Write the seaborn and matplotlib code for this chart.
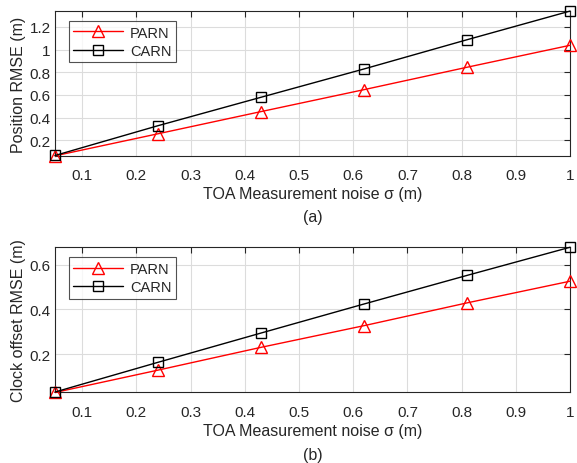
import matplotlib
matplotlib.use('Agg')
import matplotlib.pyplot as plt
import pandas as pd
import seaborn as sns

# noise levels (m)
sigma = [0.05, 0.24, 0.43, 0.62, 0.81, 1.0]

# position RMSE (m)
pos_parn = [0.065, 0.259, 0.454, 0.647, 0.844, 1.037]
pos_carn = [0.068, 0.330, 0.580, 0.829, 1.086, 1.338]

# clock offset RMSE (m)
clk_parn = [0.028, 0.128, 0.230, 0.327, 0.429, 0.526]
clk_carn = [0.030, 0.163, 0.294, 0.424, 0.552, 0.678]

x_ticks = [0.1, 0.2, 0.3, 0.4, 0.5, 0.6, 0.7, 0.8, 0.9, 1]
pos_ticks = [0.2, 0.4, 0.6, 0.8, 1.0, 1.2]
clk_ticks = [0.2, 0.4, 0.6]

sns.set_style('white')
plt.rcParams['font.family'] = ['Liberation Sans', 'DejaVu Sans']
dark = '#262626'

fig = plt.figure(figsize=(5.77, 4.64), dpi=100)
ax1 = fig.add_axes([0.0953, 0.662, 0.8927, 0.312])
ax2 = fig.add_axes([0.0953, 0.152, 0.8927, 0.313])


def draw(ax, parn, carn, yticks, ylabel, tag, tag_y):
    df = pd.DataFrame({'sigma': sigma, 'PARN': parn, 'CARN': carn})
    sns.lineplot(data=df, x='sigma', y='PARN', ax=ax, color='red', lw=1,
                 marker='^', markersize=9, markerfacecolor='none',
                 markeredgecolor='red', markeredgewidth=1, label='PARN',
                 clip_on=False, zorder=3)
    sns.lineplot(data=df, x='sigma', y='CARN', ax=ax, color='black', lw=1,
                 marker='s', markersize=7, markerfacecolor='none',
                 markeredgecolor='black', markeredgewidth=1, label='CARN',
                 clip_on=False, zorder=3)
    ax.set_xlim(sigma[0], sigma[-1])
    ax.set_ylim(min(parn + carn), max(parn + carn))
    ax.set_xticks(x_ticks)
    ax.set_xticklabels([f'{t:g}' for t in x_ticks])
    ax.set_yticks(yticks)
    ax.set_yticklabels([f'{t:g}' for t in yticks])
    ax.grid(True, color='#dcdcdc', lw=0.8)
    ax.set_axisbelow(True)
    ax.tick_params(direction='in', length=4, width=0.8, colors=dark,
                   labelsize=11, top=True, right=True)
    ax.tick_params(axis='x', pad=9)
    ax.tick_params(axis='y', pad=3)
    for s in ax.spines.values():
        s.set_color(dark)
        s.set_linewidth(0.8)
        s.set_visible(True)
    ax.set_xlabel('TOA Measurement noise σ (m)', fontsize=11.5, color=dark, labelpad=3)
    ax.set_ylabel(ylabel, fontsize=11.5, color=dark, labelpad=3)
    ax.text(0.5, tag_y, tag, transform=ax.transAxes,
            ha='center', va='center', fontsize=11.5, color=dark)
    leg = ax.legend(loc='upper left', fontsize=10.5, frameon=True, fancybox=False,
                    edgecolor=dark, handlelength=3.4, handletextpad=0.5,
                    borderpad=0.3, labelspacing=0.3, borderaxespad=0,
                    bbox_to_anchor=(0.027, 0.93))
    leg.get_frame().set_linewidth(0.8)


draw(ax1, pos_parn, pos_carn, pos_ticks, 'Position RMSE (m)', '(a)', -0.42)
draw(ax2, clk_parn, clk_carn, clk_ticks, 'Clock offset RMSE (m)', '(b)', -0.427)

fig.savefig('out.png', dpi=100)
